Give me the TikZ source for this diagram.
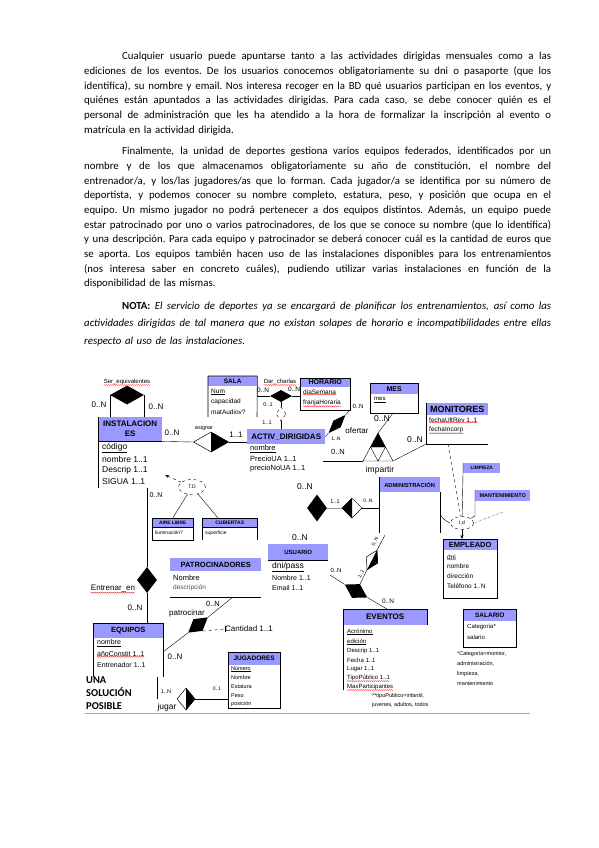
\documentclass[tikz,border=0pt]{standalone}
\usepackage{fontspec}
\setmainfont{Carlito}
\newfontfamily\arialf{Liberation Sans}
\usepackage{xcolor}
\usepackage{tikz}
\usetikzlibrary{arrows.meta,shapes.geometric,decorations.pathmorphing}

\definecolor{hdrblue}{RGB}{153,153,255}
\newcommand{\fs}[1]{\fontsize{#1}{#1}\selectfont}
\newcommand{\jl}[2][467pt]{\leavevmode\hbox to #1{\spaceskip=0.22em plus 1fil minus 0.1em\xspaceskip=\spaceskip\relax #2}}

\tikzset{
  txt/.style={anchor=north west,inner sep=0pt,text width=467pt,font=\fontsize{10.8}{14.7}\selectfont},
  hdr/.style={fill=hdrblue,inner sep=0pt,anchor=north west},
  attr/.style={anchor=west,inner sep=0pt},
  card/.style={inner sep=0pt,font=\arialf\fs{8}},
  box/.style={line width=0.6pt},
  rel/.style={diamond,fill=black,inner sep=0pt},
  halfrel/.style={diamond,draw,fill=white,inner sep=0pt,line width=0.5pt},
  spell/.style={red,line width=0.3pt,decorate,decoration={snake,amplitude=0.4pt,segment length=2pt}},
  td/.style={ellipse,draw,dashed,fill=white,inner sep=0pt,font=\arialf\fs{5}}
}

\begin{document}
\begin{tikzpicture}[x=1pt,y=-1pt]
\fill[white] (0,0) rectangle (599,848);
\useasboundingbox (0,0) rectangle (599,848);

\node[txt] (p1) at (84,52) {\noindent\hspace*{38pt}\jl[429pt]{Cualquier usuario puede apuntarse tanto a las actividades dirigidas mensuales como a las}\\
\jl{ediciones de los eventos. De los usuarios conocemos obligatoriamente su dni o pasaporte (que los}\\
\jl{identifica), su nombre y email. Nos interesa recoger en la BD qué usuarios participan en los eventos, y}\\
\jl{quiénes están apuntados a las actividades dirigidas. Para cada caso, se debe conocer quién es el}\\
\jl{personal de administración que les ha atendido a la hora de formalizar la inscripción al evento o}\\
\frenchspacing matrícula en la actividad dirigida.};

\node[txt] (p2) at (84,147) {\noindent\hspace*{38pt}\jl[429pt]{Finalmente, la unidad de deportes gestiona varios equipos federados, identificados por un}\\
\jl{nombre y de los que almacenamos obligatoriamente su año de constitución, el nombre del}\\
\jl{entrenador/a, y los/las jugadores/as que lo forman. Cada jugador/a se identifica por su número de}\\
\jl{deportista, y podemos conocer su nombre completo, estatura, peso, y posición que ocupa en el}\\
\jl{equipo. Un mismo jugador no podrá pertenecer a dos equipos distintos. Además, un equipo puede}\\
\jl{estar patrocinado por uno o varios patrocinadores, de los que se conoce su nombre (que lo identifica)}\\
\jl{y una descripción. Para cada equipo y patrocinador se deberá conocer cuál es la cantidad de euros que}\\
\jl{se aporta. Los equipos también hacen uso de las instalaciones disponibles para los entrenamientos}\\
\jl{(nos interesa saber en concreto cuáles), pudiendo utilizar varias instalaciones en función de la}\\
disponibilidad de las mismas.};

\node[txt,font=\fontsize{10.8}{17.5}\selectfont] (p3) at (84,301.5) {\noindent\hspace*{38pt}\jl[429pt]{\textbf{NOTA:} \itshape El servicio de deportes ya se encargará de planificar los entrenamientos, así como las}\\
\jl{\itshape actividades dirigidas de tal manera que no existan solapes de horario e incompatibilidades entre ellas}\\
\textit{respecto al uso de las instalaciones.}};

\node[hdr,minimum width=64pt,minimum height=24pt,align=center,font=\arialf\bfseries\fontsize{8}{10}\selectfont] (inst) at (98,417) {INSTALACION\\ES};
\draw[line width=1pt] (inst.south west) -- (inst.south east);
\draw[line width=1pt] (inst.north west) -- (98,488);
\node[attr,font=\arialf\fs{8.5}] (inst1) at (102,448) {\underline{código}};
\node[attr,font=\arialf\fs{8.5}] (inst2) at (102,459) {nombre 1..1};
\node[attr,font=\arialf\fs{8.5}] (inst3) at (102,470) {Descrip 1..1};
\node[attr,font=\arialf\fs{8.5}] (inst4) at (102,482) {SIGUA 1..1};

\node[hdr,minimum width=49pt,minimum height=10pt,font=\arialf\bfseries\fs{6.5}] (sala) at (208,376) {SALA};
\draw[box] (sala.north west) -- (208,417) (sala.north east) -- (257,417) (sala.north west) -- (sala.north east);
\node[attr,font=\arialf\fs{6.5}] (sala1) at (211,392) {\underline{Num}};
\node[attr,font=\arialf\fs{6.5}] (sala2) at (211,402) {capacidad};
\node[attr,font=\arialf\fs{6.5}] (sala3) at (211,412) {matAudiov?};

\node[hdr,minimum width=50pt,minimum height=8.5pt,font=\arialf\bfseries\fs{7}] (hora) at (300,378) {HORARIO};
\draw[box] (300,378) rectangle (350,410);
\node[attr,font=\arialf\fs{6.5}] (hora1) at (303,392) {diaSemana};
\node[attr,font=\arialf\fs{6.5}] (hora2) at (303,403) {franjaHoraria};
\draw[spell] (hora1.south west) -- (hora1.south east);
\draw[spell] (hora2.south west) -- (hora2.south east);

\node[hdr,minimum width=78pt,minimum height=15pt,font=\arialf\bfseries\fs{8}] (activ) at (247,429) {ACTIV\_DIRIGIDAS};
\node[attr,font=\arialf\fs{7.5}] (activ1) at (250,449) {\underline{nombre}};
\node[attr,font=\arialf\fs{7.5}] (activ2) at (250,459) {PrecioUA 1..1};
\node[attr,font=\arialf\fs{7.5}] (activ3) at (250,469) {precioNoUA 1..1};

\node[hdr,minimum width=48pt,minimum height=11pt,font=\arialf\bfseries\fs{7}] (mes) at (370,383) {MES};
\draw[box] (370,383) rectangle (418,413);
\node[attr,font=\arialf\fs{6}] (mes1) at (374,400) {\underline{mes}};

\node[hdr,minimum width=62pt,minimum height=12pt,font=\arialf\bfseries\fs{9}] (moni) at (426,403) {MONITORES};
\draw[box] (426,403) -- (426,444) -- (488,444);
\node[attr,font=\arialf\fs{6.5}] (moni1) at (429,420) {fechaUltRev 1..1};
\node[attr,font=\arialf\fs{6.5}] (moni2) at (429,430) {fechaIncorp};
\draw[spell] (moni1.south west) -- (moni1.south east);
\draw[spell] (moni2.south west) -- (moni2.south east);

\node[hdr,minimum width=37pt,minimum height=10pt,font=\arialf\bfseries\fs{4.8}] (limp) at (463,463) {LIMPIEZA};
\node[hdr,minimum width=55pt,minimum height=11pt,font=\arialf\bfseries\fs{5.5}] (mant) at (475,490) {MANTENIMIENTO};
\node[hdr,minimum width=61pt,minimum height=15pt,font=\arialf\bfseries\fs{5.8}] (adm) at (379,477) {ADMINISTRACIÓN};
\draw[box] (379,477) -- (379,533) (440,492) -- (440,533);

\node[hdr,minimum width=54pt,minimum height=11pt,font=\arialf\bfseries\fs{7.5}] (emp) at (443,539) {EMPLEADO};
\draw[box] (443,539) rectangle (497,598);
\node[attr,font=\arialf\fs{6.5}] (emp1) at (447,557) {dni};
\node[attr,font=\arialf\fs{6.5}] (emp2) at (447,566) {nombre};
\node[attr,font=\arialf\fs{6.5}] (emp3) at (447,576) {dirección};
\node[attr,font=\arialf\fs{6.5}] (emp4) at (447,586) {Teléfono 1..N};
\draw[spell] (emp1.south west) -- (emp1.south east);

\node[hdr,minimum width=60pt,minimum height=16pt,font=\arialf\bfseries\fs{6}] (usu) at (268,544) {USUARIO};
\draw[line width=1pt] (usu.south west) -- (usu.south east);
\node[attr,font=\arialf\fs{8.5}] (usu1) at (272,567) {\underline{dni/pass}};
\node[attr,font=\arialf\fs{7}] (usu2) at (272,578) {Nombre 1..1};
\node[attr,font=\arialf\fs{7}] (usu3) at (272,588) {Email 1..1};

\node[hdr,draw,minimum width=41pt,minimum height=9pt,font=\arialf\bfseries\fs{4.8}] (aire) at (152,518) {AIRE LIBRE};
\draw[box] (152,518) rectangle (193,540);
\node[attr,font=\arialf\fs{5}] (aire1) at (155,533) {iluminación?};
\node[hdr,draw,minimum width=55pt,minimum height=9pt,font=\arialf\bfseries\fs{5}] (cub) at (202,518) {CUBIERTAS};
\draw[box] (202,518) -- (202,540) (257,518) -- (257,540);
\node[attr,font=\arialf\fs{5}] (cub1) at (205,533) {superficie};

\node[hdr,minimum width=91pt,minimum height=13pt,font=\arialf\bfseries\fs{7.5}] (patro) at (170,558) {PATROCINADORES};
\draw[box] (170,597) -- (261,597);
\node[attr,font=\arialf\fs{7.5}] (patro1) at (173,578) {Nombre};
\node[attr,font=\arialf\fs{6.5},text=black!70] (patro2) at (173,588) {descripción};

\node[hdr,minimum width=70pt,minimum height=15pt,font=\arialf\bfseries\fs{7.5}] (equi) at (93,623) {EQUIPOS};
\draw[box] (93,677) -- (93,623) -- (163,623) -- (163,677);
\node[attr,font=\arialf\fs{7}] (equi1) at (97,643) {\underline{nombre}};
\node[attr,font=\arialf\fs{7}] (equi2) at (97,654) {añoConstit 1..1};
\node[attr,font=\arialf\fs{7}] (equi3) at (97,665) {Entrenador 1..1};
\draw[spell] (equi2.south west) -- (equi2.south east);

\node[hdr,minimum width=52pt,minimum height=13pt,font=\arialf\bfseries\fs{6.5}] (jugd) at (228,652) {JUGADORES};
\draw[box] (228,652) rectangle (280,708);
\node[attr,font=\arialf\fs{5.5}] (jugd1) at (231,669) {\underline{Número}};
\node[attr,font=\arialf\fs{5.5}] (jugd2) at (231,678) {Nombre};
\node[attr,font=\arialf\fs{5.5}] (jugd3) at (231,687) {Estatura};
\node[attr,font=\arialf\fs{5.5}] (jugd4) at (231,696) {Peso};
\node[attr,font=\arialf\fs{5.5}] (jugd5) at (231,705) {\underline{posición}};

\node[hdr,minimum width=84pt,minimum height=16pt,font=\arialf\bfseries\fs{8}] (evt) at (343,609) {EVENTOS};
\draw[box] (343,690) -- (343,609) -- (427,609) -- (427,625);
\node[attr,font=\arialf\fs{6}] (evt1) at (347,632) {\underline{Acrónimo}};
\node[attr,font=\arialf\fs{6}] (evt2) at (347,642) {\underline{edición}};
\node[attr,font=\arialf\fs{6}] (evt3) at (347,651) {Descrip 1..1};
\node[attr,font=\arialf\fs{6}] (evt4) at (347,660) {Fecha 1..1};
\node[attr,font=\arialf\fs{6}] (evt5) at (347,669) {Lugar 1..1};
\node[attr,font=\arialf\fs{6}] (evt6) at (347,678) {TipoPúblico 1..1};
\node[attr,font=\arialf\fs{6}] (evt7) at (347,687) {MaxParticipantes};
\draw[spell] (evt6.south west) -- (evt6.south east);
\draw[spell] (evt7.south west) -- (evt7.south east);
\node[anchor=north west,inner sep=0pt,align=left,font=\arialf\fontsize{5.5}{9}\selectfont] (evtn) at (372,693) {**tipoPublico=infantil,\\juvenes, adultos, todos};

\node[hdr,minimum width=53pt,minimum height=12pt,font=\arialf\bfseries\fs{6.5}] (sal) at (463,609) {SALARIO};
\draw[box] (463,609) rectangle (516,647);
\node[attr,font=\arialf\fs{6}] (sal1) at (467,627) {Categoría*};
\node[attr,font=\arialf\fs{6}] (sal2) at (467,637) {salario};
\node[anchor=north west,inner sep=0pt,align=left,font=\arialf\fontsize{5.5}{10}\selectfont] (saln) at (457,651) {*Categoría=monitor,\\administración,\\limpieza,\\mantenimiento};

\node[rel,minimum width=34pt,minimum height=19pt] (equiv) at (127,395) {};
\node[card,font=\arialf\fs{6}] (equivl) at (127,382) {Ser\_equivalentes};
\draw[spell] (equivl.south west) -- (equivl.south east);
\draw (equiv.west) -- (equiv.west |- inst.north);
\draw (equiv.east) -- (equiv.east |- inst.north);
\node[card] (c1) at (99,405) {0..N};
\node[card] (c2) at (156,407) {0..N};

\node[halfrel,minimum width=35pt,minimum height=20pt] (asig) at (211,442) {};
\fill (asig.north) -- (asig.east) -- (asig.south) -- cycle;
\draw (inst.south east) -- (asig.west);
\draw (asig.east) -- (activ.west |- asig.east);
\node[card,font=\arialf\fs{5.5}] (asigl) at (204,428) {asignar};
\node[card] (c3) at (172,433) {0..N};
\node[card] (c4) at (236,435) {1..1};

\node[rel,minimum width=22pt,minimum height=12pt] (charla) at (281,396) {};
\draw (sala.east |- charla) -- (charla.west);
\draw (charla.east) -- (hora.west |- charla);
\node[card,font=\arialf\fs{6}] (charlal) at (280,382) {Dar\_charlas};
\draw[spell] (charlal.south west) -- (charlal.south east);
\node[diamond,draw,dashed,fill=white,inner sep=0pt,minimum width=10pt,minimum height=14pt] (charla2) at (281,414) {};
\draw (charla.south) -- (charla2.north);
\draw (charla2.south) -- (charla2.south |- activ.north);
\node[card,font=\arialf\fs{6.5}] (c5) at (263,390) {0..N};
\node[card,font=\arialf\fs{6.5}] (c6) at (294,389) {0..N};
\node[card,font=\arialf\fs{5.5}] (c7) at (268,405) {0..1};
\node[card,font=\arialf\fs{5.5}] (c8) at (267,423) {1..1};

\coordinate (horaC) at (350,410);
\node[rel,minimum width=25pt,minimum height=10pt,rotate=47] (ofer) at (337,424) {};
\draw (horaC) -- (ofer.east);
\draw (ofer.west) -- (activ.east);
\node[card,font=\arialf\fs{6}] (c9) at (358,406) {0..N};
\node[card,font=\arialf\fs{5}] (c10) at (336,439) {1..N};
\node[card] (oferl) at (357,431) {ofertar};

\coordinate (ia) at (378,433);
\coordinate (il) at (363,461);
\coordinate (ir) at (393,461);
\coordinate (iml) at (370.5,447);
\coordinate (imr) at (385.5,447);
\coordinate (ib) at (378,461);
\fill (ia) -- (iml) -- (imr) -- cycle;
\draw[line width=0.4pt] (ia) -- (il) -- (ir) -- cycle (iml) -- (imr) (iml) -- (ib) -- (imr);
\coordinate (mesB) at (393,413);
\coordinate (actR) at (323,461);
\coordinate (moniB) at (426,444);
\draw (mesB) -- (ia);
\draw (actR) -- (il);
\draw (ir) -- (moniB);
\node[card,font=\arialf\fs{8.5}] (c11) at (382,419) {0..N};
\node[card,font=\arialf\fs{7.5}] (c12) at (338,452) {0..N};
\node[card,font=\arialf\fs{8.5}] (c13) at (415,440) {0..N};
\node[card,font=\arialf\fs{8.5}] (impl) at (380,470) {impartir};

\node[rel,minimum width=20pt,minimum height=27pt] (trab) at (317,508) {};
\node[halfrel,minimum width=20pt,minimum height=20pt] (trab2) at (352,508) {};
\fill (trab2.north) -- (trab2.west) -- (trab2.south) -- cycle;
\draw[black!40] (trab.east) -- (trab2.west);
\draw (trab2.east) -- (adm.west |- trab2);
\node[card,font=\arialf\fs{8.5}] (c14) at (305,487) {0..N};
\node[card,font=\arialf\fs{5.5}] (c15) at (335,502) {1..1};
\node[card,font=\arialf\fs{5}] (c16) at (368,501) {0..N};
\node[card,font=\arialf\fs{8.5}] (c17) at (300,538) {0..N};

\coordinate (admB) at (385,535);
\coordinate (usuR) at (330,575);
\coordinate (evtT) at (387,609);
\node[rel,minimum width=26pt,minimum height=16pt,rotate=-30] (part) at (356,591) {};
\node[halfrel,minimum width=22pt,minimum height=13pt,rotate=63] (part2) at (372,560) {};
\fill (part2.west) -- (part2.south) -- (part2.east) -- cycle;
\draw (admB) -- (part2.east);
\draw (part2.west) -- (part.north);
\draw (usuR) -- (part.west);
\draw (part.east) -- (evtT);
\node[card,font=\arialf\fs{5},rotate=63] (c18) at (375,542) {0..N};
\node[card,font=\arialf\fs{5},rotate=63] (c19) at (361,574) {1..1};
\node[card,font=\arialf\fs{6}] (c20) at (336,570) {0..N};
\node[card,font=\arialf\fs{6.5}] (c21) at (388,601) {0..N};

\node[td,minimum width=27pt,minimum height=15pt] (td1) at (192,487) {T.D};
\coordinate (instA) at (165,475);
\draw[dashed,-{Stealth[length=4pt]}] (td1) -- (instA);
\draw (td1) -- (aire.north);
\draw (td1) -- ([xshift=16pt]cub.north west);
\node[card,font=\arialf\fs{7}] (c22) at (156,495) {0..N};

\coordinate (instB) at (147,488);
\node[rel,minimum width=20pt,minimum height=26pt] (entr) at (147,580) {};
\draw (instB) -- (entr.north);
\draw (entr.south) -- (entr.south |- equi.north);
\node[card] (entrl) at (113,589) {Entrenar\_en};
\draw[spell] (entrl.south west) -- (entrl.south east);
\node[card] (c23) at (135,608) {0..N};

\coordinate (patB) at (233,597);
\coordinate (equR) at (163,652);
\node[rel,minimum width=25pt,minimum height=15pt,rotate=38] (patr) at (198,625) {};
\draw (patB) -- (patr.east);
\draw (patr.west) -- (equR);
\node[card,anchor=west] (cant) at (225,629) {Cantidad 1..1};
\draw[dashed] (patr.south) -- (cant.west);
\draw (cant.north west) -- (cant.south west);
\node[card,font=\arialf\fs{7.5}] (c24) at (213,604) {0..N};
\node[card] (patrl) at (187,613) {patrocinar};
\node[card] (c25) at (175,657) {0..N};

\node[halfrel,minimum width=18pt,minimum height=22pt] (jug) at (186,699) {};
\fill (jug.north) -- (jug.east) -- (jug.south) -- cycle;
\coordinate (equB) at (157,677);
\draw (equB) -- (equB |- jug.west);
\draw (jug.east) -- (jugd.west |- jug.east);
\node[card,font=\arialf\fs{5.5}] (c26) at (166,692) {1..N};
\node[card,font=\arialf\fs{8.5}] (jugl) at (167,707) {jugar};
\node[card,font=\arialf\fs{5}] (c27) at (217,689) {0..1};

\node[td,minimum width=23pt,minimum height=13pt] (td2) at (462,523) {t,d};
\coordinate (moniD) at (448,444);
\coordinate (admR) at (440,514);
\coordinate (mantB) at (475,516);
\coordinate (td2x) at (503,512);
\draw[dashed] (moniD) -- (td2);
\draw (limp.north west) -- (limp.south west) -- (td2);
\draw (mant.north west) -- (mantB) -- (td2);
\draw (admR) to[bend right=20] (td2.west);
\draw[densely dotted] (td2.east) -- (td2x);
\draw[-{Stealth[length=4pt]}] (td2.south) -- (td2.south |- emp.north);

\node[anchor=north west,inner sep=0pt,align=left,font=\bfseries\fontsize{10.5}{13}\selectfont] (sol) at (86,676) {UNA\\SOLUCIÓN\\POSIBLE};
\draw[black!35] (85,713) -- (530,713);
\end{tikzpicture}
\end{document}
